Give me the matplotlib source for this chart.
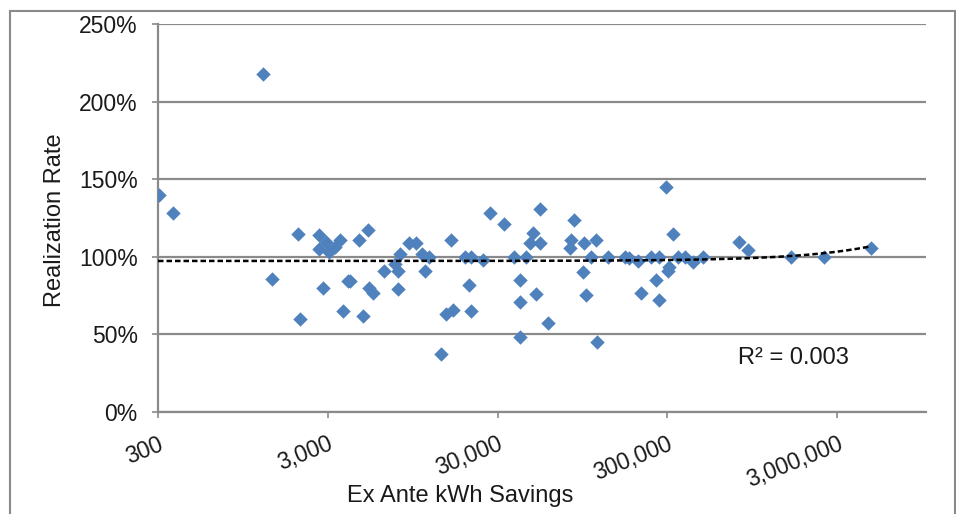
import numpy as np
import matplotlib
matplotlib.use("Agg")
import matplotlib.pyplot as plt
import matplotlib.transforms as mtransforms
from matplotlib.patches import Rectangle

plt.rcParams['font.family'] = ['Liberation Sans', 'DejaVu Sans']

# ex ante kWh savings and realization rate (%)
kwh = [1249, 304, 369, 2000, 2655, 2945, 3530, 2655, 3040, 3300, 4580, 5140,
       6430, 1410, 2805, 3970, 4080, 5250, 5545, 2070, 3690, 4840,
       26900, 53000, 32500, 84400, 48400, 46700, 53000, 80700, 96200, 114000,
       79600, 9000, 9980, 16000, 7960, 10700, 11900, 7430, 7780, 11200, 7780,
       19400, 21000, 24600, 37700, 44200, 20300, 40400, 50600, 40400, 99700,
       95300, 15000, 16400, 21000, 59300, 40700, 14000, 115000, 107000,
       134000, 168000,
       294000, 325000, 795000, 890000, 4730000, 1600000, 2520000, 179000,
       201000, 240000, 269000, 345000, 383000, 423000, 484000, 301000,
       308000, 257000, 210000, 267000]
rate = [218, 140, 128, 114.5, 114, 109.6, 110.7, 105, 102.8, 106, 110.7, 117,
        91, 85.7, 80, 84.6, 84, 80, 76.7, 60, 64.7, 61.5,
        128.4, 130.6, 121, 123.5, 115, 109, 109, 111, 109, 111,
        105.5, 108.8, 108.8, 110.7, 102, 102, 100, 95, 91, 91, 79.3,
        100, 100, 98, 100, 100, 82, 85, 76, 70.7, 75,
        90, 62.8, 65.4, 65, 57.5, 48, 37, 45, 100,
        100, 100,
        145, 114.5, 109.6, 104.3, 105.6, 100, 100, 99,
        97, 100, 100, 100, 100, 96.3, 100, 91,
        93, 85, 76.5, 72]

# linear trendline (rate in %, x in kWh)
trend_intercept = 97.2
trend_slope = 2.0e-6
r2_label = "R² = 0.003"

xticks = [300, 3000, 30000, 300000, 3000000]
xtick_labels = ["300", "3,000", "30,000", "300,000", "3,000,000"]
yticks = [0, 50, 100, 150, 200, 250]

fig = plt.figure(figsize=(9.56, 5.14), dpi=100)
ax = fig.add_axes([158/956, 1 - 411.7/514, 768/956, 387.7/514])

ax.set_xscale('log')
ax.set_xlim(300, 1e7)
ax.set_ylim(0, 250)

ax.set_yticks(yticks)
ax.set_yticklabels([f"{v}%" for v in yticks])
ax.set_xticks(xticks)
ax.set_xticklabels(xtick_labels, rotation=22, ha='right', va='top',
                   rotation_mode='anchor')
ax.minorticks_off()
shift = mtransforms.ScaledTranslation(-5/100, 4/100, fig.dpi_scale_trans)
for lab in ax.get_xticklabels():
    lab.set_transform(lab.get_transform() + shift)

ax.grid(axis='y', color='#8a8a8a', linewidth=1.6)
ax.set_axisbelow(True)
for s in ['top', 'right']:
    ax.spines[s].set_visible(False)
for s in ['left', 'bottom']:
    ax.spines[s].set_color('#8a8a8a')
    ax.spines[s].set_linewidth(1.6)
ax.tick_params(axis='y', direction='out', length=4.5, width=1.2,
               color='#8a8a8a', pad=10, labelsize=16.5, labelcolor='#1a1a1a')
ax.tick_params(axis='x', direction='out', length=4, width=1.2,
               color='#8a8a8a', pad=11, labelsize=16.5, labelcolor='#1a1a1a')

ax.scatter(kwh, rate, marker='D', s=54, color='#4F81BD', zorder=3,
           linewidths=0)

xl = np.logspace(np.log10(300), np.log10(max(kwh)), 300)
ax.plot(xl, trend_intercept + trend_slope * xl, color='black',
        linestyle=(0, (2.2, 1.2)), linewidth=1.8, zorder=4)

ax.text(0.828, 0.1385, r2_label, transform=ax.transAxes, ha='center',
        va='center', fontsize=17, color='#1a1a1a')

fig.text(460/956, 1 - 496/514, "Ex Ante kWh Savings", ha='center',
         va='center', fontsize=17, color='#1a1a1a')
fig.text(55/956, 1 - 220/514, "Realization Rate", ha='center', va='center',
         rotation=90, fontsize=17, color='#1a1a1a')

fig.add_artist(Rectangle((10/956, -0.05), 945/956, (514 - 11)/514 + 0.05,
                         transform=fig.transFigure, fill=False,
                         edgecolor='#8a8a8a', linewidth=1.5))

fig.savefig("out.png", dpi=100)
